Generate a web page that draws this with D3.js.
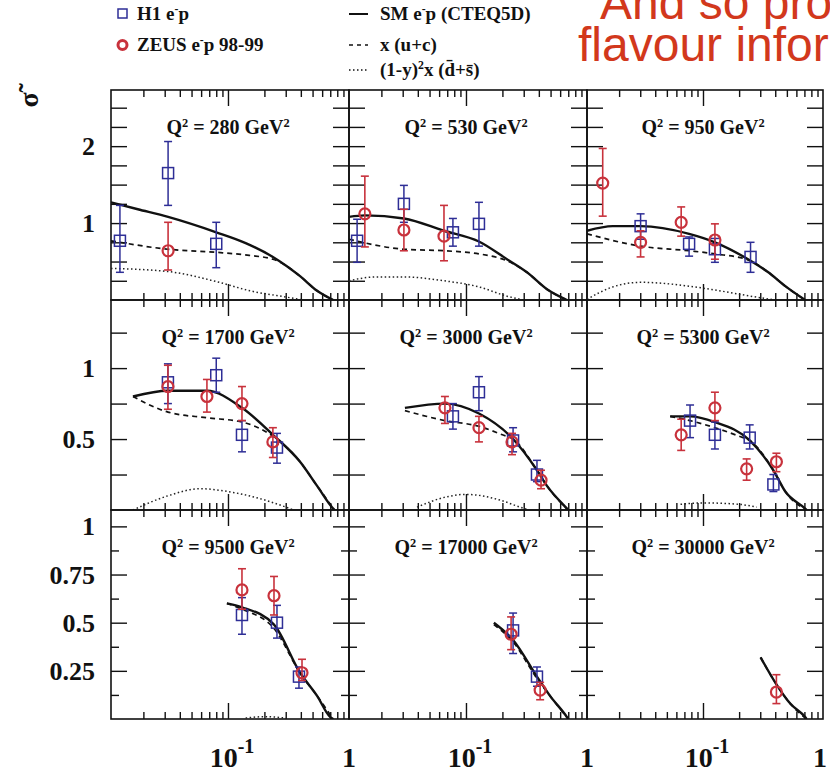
<!DOCTYPE html>
<html>
<head>
<meta charset="utf-8">
<script src="https://cdn.jsdelivr.net/npm/d3@7"></script>
<style>
  body { margin: 0; background: #fff; }
  svg { display: block; }
  text { font-family: "Liberation Serif", "Times New Roman", serif; font-weight: bold; fill: #111; }
  text.slide { font-family: "Liberation Sans", Arial, sans-serif; font-weight: normal; fill: #d2381c; font-size: 48px; }
</style>
</head>
<body>
<div id="chart"></div>
<script>
const W = 830, H = 774;

// panel layout (3 x 3)
const gridLeft = 111, gridTop = 90;
const colWidths = [238, 238, 236];
const rowHeights = [210, 210, 209];

const q2Values = ['280', '530', '950', '1700', '3000', '5300', '9500', '17000', '30000'];

// y range and ticks per row
const rowYMax = [2.73, 1.48, 1.085];
const rowYLabels = [[1, 2], [0.5, 1], [0.25, 0.5, 0.75, 1]];
const rowYMajor = [
    [0.25, 0.5, 0.75, 1, 1.25, 1.5, 1.75, 2, 2.25, 2.5],
    [0.25, 0.5, 0.75, 1, 1.25],
    [0.25, 0.5, 0.75, 1]
];
const rowYMinor = [[], [], [0.125, 0.375, 0.625, 0.875]];

const xDomain = [0.0108, 1];
const xMajor = [0.1];
const xMinor = [0.02, 0.03, 0.04, 0.05, 0.06, 0.07, 0.08, 0.09, 0.2, 0.3, 0.4, 0.5, 0.6, 0.7, 0.8, 0.9];

// measurements: [x, value, errLow, errHigh]
const h1Data = [
    [[0.0128, 0.77, 0.36, 1.23], [0.032, 1.65, 1.23, 2.06], [0.080, 0.73, 0.42, 1.01]],
    [[0.0126, 0.77, 0.49, 1.05], [0.0307, 1.25, 1.01, 1.49], [0.078, 0.88, 0.70, 1.06], [0.128, 0.99, 0.70, 1.27]],
    [[0.0302, 0.96, 0.79, 1.12], [0.0766, 0.73, 0.57, 0.82], [0.1257, 0.66, 0.49, 0.80], [0.249, 0.56, 0.36, 0.75]],
    [[0.0319, 0.90, 0.75, 1.03], [0.080, 0.95, 0.83, 1.07], [0.1305, 0.53, 0.41, 0.63], [0.254, 0.44, 0.33, 0.54]],
    [[0.078, 0.66, 0.57, 0.75], [0.128, 0.83, 0.70, 0.94], [0.245, 0.49, 0.41, 0.58], [0.386, 0.25, 0.20, 0.35]],
    [[0.078, 0.63, 0.51, 0.74], [0.1257, 0.53, 0.43, 0.62], [0.245, 0.51, 0.43, 0.60], [0.386, 0.18, 0.13, 0.25]],
    [[0.1305, 0.54, 0.44, 0.63], [0.254, 0.50, 0.42, 0.59], [0.386, 0.22, 0.16, 0.27]],
    [[0.245, 0.46, 0.34, 0.55], [0.386, 0.22, 0.17, 0.27]],
    []
];

const zeusData = [
    [[0.032, 0.64, 0.39, 1.01]],
    [[0.0146, 1.12, 0.69, 1.61], [0.0307, 0.91, 0.64, 1.18], [0.0658, 0.83, 0.51, 1.23]],
    [[0.0146, 1.52, 1.09, 1.97], [0.0302, 0.75, 0.56, 0.90], [0.0658, 1.01, 0.83, 1.21], [0.1257, 0.78, 0.53, 0.99]],
    [[0.0319, 0.87, 0.71, 1.02], [0.067, 0.80, 0.69, 0.92], [0.1305, 0.75, 0.63, 0.87], [0.235, 0.48, 0.37, 0.58]],
    [[0.067, 0.72, 0.61, 0.80], [0.128, 0.58, 0.48, 0.66], [0.24, 0.48, 0.39, 0.54], [0.417, 0.21, 0.15, 0.28]],
    [[0.0658, 0.53, 0.42, 0.64], [0.1257, 0.72, 0.63, 0.83], [0.231, 0.29, 0.21, 0.36], [0.409, 0.34, 0.27, 0.40]],
    [[0.1305, 0.67, 0.57, 0.78], [0.24, 0.64, 0.54, 0.74], [0.409, 0.24, 0.20, 0.31]],
    [[0.236, 0.44, 0.36, 0.53], [0.41, 0.15, 0.10, 0.19]],
    [[0.409, 0.14, 0.08, 0.23]]
];

// SM e-p (CTEQ5D)
const smCurve = [
    [[0.0108, 1.27], [0.018, 1.18], [0.032, 1.08], [0.08, 0.88], [0.14, 0.74], [0.235, 0.56], [0.394, 0.31], [0.545, 0.12], [0.74, 0]],
    [[0.0108, 1.08], [0.0146, 1.10], [0.0307, 1.06], [0.0658, 0.90], [0.128, 0.76], [0.218, 0.53], [0.319, 0.36], [0.467, 0.14], [0.683, 0]],
    [[0.0108, 0.90], [0.0177, 0.96], [0.0302, 0.96], [0.0766, 0.86], [0.1257, 0.75], [0.249, 0.51], [0.35, 0.36], [0.485, 0.18], [0.71, 0]],
    [[0.0164, 0.80], [0.0319, 0.84], [0.067, 0.84], [0.1305, 0.72], [0.235, 0.53], [0.394, 0.34], [0.545, 0.17], [0.74, 0.01], [0.76, 0]],
    [[0.0313, 0.72], [0.067, 0.75], [0.128, 0.68], [0.245, 0.50], [0.386, 0.28], [0.467, 0.17], [0.683, 0.01], [0.70, 0]],
    [[0.0533, 0.66], [0.078, 0.66], [0.1257, 0.62], [0.245, 0.49], [0.386, 0.28], [0.485, 0.13], [0.71, 0.01], [0.73, 0]],
    [[0.098, 0.60], [0.1305, 0.58], [0.24, 0.49], [0.394, 0.24], [0.545, 0.12], [0.70, 0.01], [0.74, 0]],
    [[0.170, 0.50], [0.245, 0.41], [0.386, 0.22], [0.495, 0.12], [0.683, 0.01], [0.70, 0]],
    [[0.302, 0.32], [0.409, 0.18], [0.533, 0.08], [0.71, 0.01], [0.73, 0]]
];

// x (u+c)
const xucCurve = [
    [[0.0108, 0.77], [0.032, 0.66], [0.08, 0.62], [0.15, 0.58], [0.235, 0.53], [0.3, 0.45], [0.394, 0.31], [0.545, 0.12], [0.74, 0]],
    [[0.0108, 0.79], [0.0307, 0.66], [0.0658, 0.64], [0.128, 0.60], [0.218, 0.51], [0.319, 0.36], [0.467, 0.14], [0.683, 0]],
    [[0.0108, 0.86], [0.0302, 0.70], [0.0766, 0.64], [0.1257, 0.60], [0.249, 0.51], [0.35, 0.36], [0.485, 0.18], [0.71, 0]],
    [[0.0164, 0.80], [0.0319, 0.69], [0.067, 0.65], [0.1305, 0.62], [0.235, 0.52], [0.394, 0.34], [0.545, 0.17], [0.76, 0]],
    [[0.0313, 0.70], [0.067, 0.63], [0.128, 0.59], [0.2, 0.53], [0.245, 0.50], [0.386, 0.28], [0.467, 0.17], [0.70, 0]],
    [[0.0533, 0.66], [0.078, 0.63], [0.1257, 0.58], [0.2, 0.52], [0.245, 0.49], [0.386, 0.28], [0.485, 0.13], [0.73, 0]],
    [[0.098, 0.60], [0.1305, 0.57], [0.24, 0.47], [0.394, 0.24], [0.545, 0.12], [0.74, 0]],
    [[0.170, 0.49], [0.245, 0.40], [0.386, 0.21], [0.495, 0.12], [0.70, 0]],
    [[0.302, 0.32], [0.409, 0.18], [0.533, 0.08], [0.73, 0]]
];

// (1-y)^2 x (dbar+sbar)
const dsCurve = [
    [[0.0108, 0.41], [0.032, 0.37], [0.08, 0.24], [0.152, 0.12], [0.325, 0.03], [0.42, 0]],
    [[0.0108, 0.25], [0.018, 0.30], [0.0307, 0.30], [0.0658, 0.25], [0.128, 0.17], [0.218, 0.05], [0.3, 0]],
    [[0.0108, 0.01], [0.0177, 0.17], [0.0302, 0.23], [0.0766, 0.18], [0.1257, 0.13], [0.249, 0.05], [0.4, 0]],
    [[0.0164, 0], [0.0319, 0.10], [0.0587, 0.15], [0.1, 0.13], [0.184, 0.08], [0.325, 0.01], [0.35, 0]],
    [[0.0394, 0.02], [0.067, 0.09], [0.1, 0.11], [0.191, 0.07], [0.28, 0.02], [0.33, 0]],
    [[0.065, 0.04], [0.1, 0.05], [0.2, 0.04], [0.28, 0.02]],
    [[0.14, 0.005], [0.2, 0.012], [0.3, 0.005]],
    [],
    []
];

const blue = '#2e2e96';
const red = '#c8323c';

const svg = d3.select('#chart')
    .append('svg')
    .attr('width', W)
    .attr('height', H);

function richText(sel, parts, size) {
    parts.forEach(p => {
        sel.append('tspan')
            .attr('font-size', p.sup ? size * 0.62 : size)
            .attr('baseline-shift', p.sup ? '55%' : null)
            .text(p.t);
    });
    return sel;
}

// red slide text (cut off by the page)
svg.append('text').attr('class', 'slide')
    .attr('x', 600).attr('y', 19)
    .text('And so provides');
svg.append('text').attr('class', 'slide')
    .attr('x', 578).attr('y', 61)
    .text('flavour information');

// legend
const legend = svg.append('g');
legend.append('rect')
    .attr('x', 118).attr('y', 9).attr('width', 9).attr('height', 9)
    .attr('fill', 'none').attr('stroke', blue).attr('stroke-width', 1.5);
richText(legend.append('text').attr('x', 137).attr('y', 20),
    [{ t: 'H1 e' }, { t: '-', sup: true }, { t: 'p' }], 19);
legend.append('circle')
    .attr('cx', 122.5).attr('cy', 45).attr('r', 4.5)
    .attr('fill', 'none').attr('stroke', red).attr('stroke-width', 3);
richText(legend.append('text').attr('x', 137).attr('y', 51),
    [{ t: 'ZEUS e' }, { t: '-', sup: true }, { t: 'p 98-99' }], 19);

legend.append('line').attr('x1', 349).attr('x2', 368).attr('y1', 14).attr('y2', 14)
    .attr('stroke', '#111').attr('stroke-width', 2);
richText(legend.append('text').attr('x', 380).attr('y', 20),
    [{ t: 'SM e' }, { t: '-', sup: true }, { t: 'p (CTEQ5D)' }], 19);
legend.append('line').attr('x1', 349).attr('x2', 368).attr('y1', 45).attr('y2', 45)
    .attr('stroke', '#111').attr('stroke-width', 1.5).attr('stroke-dasharray', '4,4');
richText(legend.append('text').attr('x', 380).attr('y', 51),
    [{ t: 'x (u+c)' }], 19);
legend.append('line').attr('x1', 349).attr('x2', 368).attr('y1', 70).attr('y2', 70)
    .attr('stroke', '#111').attr('stroke-width', 1.3).attr('stroke-dasharray', '1.5,2.5');
richText(legend.append('text').attr('x', 380).attr('y', 76),
    [{ t: '(1-y)' }, { t: '2', sup: true }, { t: 'x (d\u0304+s\u0304)' }], 19);

// y axis title
svg.append('text')
    .attr('transform', 'translate(38,100) rotate(-90)')
    .attr('text-anchor', 'middle')
    .style('font-size', '28px')
    .text('\u03c3\u0303');

const defs = svg.append('defs');

q2Values.forEach((q2, i) => {
    const row = Math.floor(i / 3), col = i % 3;
    const left = gridLeft + d3.sum(colWidths.slice(0, col));
    const top = gridTop + d3.sum(rowHeights.slice(0, row));
    const pw = colWidths[col];
    const ph = rowHeights[row];

    const x = d3.scaleLog().domain(xDomain).range([0, pw]);
    const y = d3.scaleLinear().domain([0, rowYMax[row]]).range([ph, 0]);

    const g = svg.append('g').attr('transform', `translate(${left},${top})`);

    defs.append('clipPath').attr('id', 'clip' + i)
        .append('rect').attr('width', pw).attr('height', ph);

    // ticks: bottom/top (x), left/right (y), all pointing inward
    const tickAxis = (axis, vals, size) => axis.tickValues(vals).tickSize(size).tickFormat('');
    const addAxis = (axis, tx, ty) => {
        const a = g.append('g').attr('transform', `translate(${tx},${ty})`).call(axis);
        a.select('.domain').remove();
        a.selectAll('line').attr('stroke', '#111').attr('stroke-width', 1.4);
    };
    addAxis(tickAxis(d3.axisBottom(x), xMinor, -7), 0, ph);
    addAxis(tickAxis(d3.axisBottom(x), xMajor, -16), 0, ph);
    addAxis(tickAxis(d3.axisTop(x), xMinor, -7), 0, 0);
    addAxis(tickAxis(d3.axisTop(x), xMajor, -16), 0, 0);
    addAxis(tickAxis(d3.axisLeft(y), rowYMajor[row], -16), 0, 0);
    addAxis(tickAxis(d3.axisLeft(y), rowYMinor[row], -8), 0, 0);
    addAxis(tickAxis(d3.axisRight(y), rowYMajor[row], -16), pw, 0);
    addAxis(tickAxis(d3.axisRight(y), rowYMinor[row], -8), pw, 0);

    g.append('rect')
        .attr('width', pw).attr('height', ph)
        .attr('fill', 'none').attr('stroke', '#111').attr('stroke-width', 1.6);

    // y tick labels on the first column
    if (col === 0) {
        g.selectAll('.ylab')
            .data(rowYLabels[row])
            .join('text')
            .attr('x', -16)
            .attr('y', d => y(d) + 9)
            .attr('text-anchor', 'end')
            .style('font-size', '26px')
            .text(d => d);
    }

    // x tick labels on the bottom row
    if (row === 2) {
        const t = g.append('text')
            .attr('x', x(0.1) + 4)
            .attr('y', ph + 48)
            .attr('text-anchor', 'middle')
            .style('font-size', '28px');
        t.append('tspan').text('10');
        t.append('tspan').attr('font-size', 20).attr('baseline-shift', '70%').text('-1');
        g.append('text')
            .attr('x', x(1) - (col === 2 ? 3 : 0))
            .attr('y', ph + 48)
            .attr('text-anchor', 'middle')
            .style('font-size', '28px')
            .text('1');
    }

    // Q2 label
    richText(g.append('text')
        .attr('x', pw / 2 - 2)
        .attr('y', 44)
        .attr('text-anchor', 'middle'),
        [{ t: 'Q' }, { t: '2', sup: true }, { t: ' = ' + q2 + ' GeV' }, { t: '2', sup: true }], 20);

    const plot = g.append('g').attr('clip-path', `url(#clip${i})`);
    const line = d3.line()
        .x(d => x(d[0]))
        .y(d => y(d[1]))
        .curve(d3.curveMonotoneX);

    plot.append('path').datum(dsCurve[i])
        .attr('d', line).attr('fill', 'none')
        .attr('stroke', '#222').attr('stroke-width', 1.5).attr('stroke-dasharray', '1.5,2.5');
    plot.append('path').datum(xucCurve[i])
        .attr('d', line).attr('fill', 'none')
        .attr('stroke', '#111').attr('stroke-width', 1.7).attr('stroke-dasharray', '5,4');
    plot.append('path').datum(smCurve[i])
        .attr('d', line).attr('fill', 'none')
        .attr('stroke', '#111').attr('stroke-width', 2.4);

    // H1 points
    const h1 = plot.selectAll('.h1')
        .data(h1Data[i])
        .join('g')
        .attr('stroke', blue).attr('stroke-width', 1.5).attr('fill', 'none');
    h1.append('line')
        .attr('x1', d => x(d[0])).attr('x2', d => x(d[0]))
        .attr('y1', d => y(d[2])).attr('y2', d => y(d[3]));
    h1.append('line')
        .attr('x1', d => x(d[0]) - 4).attr('x2', d => x(d[0]) + 4)
        .attr('y1', d => y(d[2])).attr('y2', d => y(d[2]));
    h1.append('line')
        .attr('x1', d => x(d[0]) - 4).attr('x2', d => x(d[0]) + 4)
        .attr('y1', d => y(d[3])).attr('y2', d => y(d[3]));
    h1.append('rect')
        .attr('x', d => x(d[0]) - 5.5).attr('y', d => y(d[1]) - 5.5)
        .attr('width', 11).attr('height', 11)
        .attr('fill', '#fff').attr('fill-opacity', 0.01);

    // ZEUS points
    const zeus = plot.selectAll('.zeus')
        .data(zeusData[i])
        .join('g')
        .attr('stroke', red).attr('stroke-width', 1.6).attr('fill', 'none');
    zeus.append('line')
        .attr('x1', d => x(d[0])).attr('x2', d => x(d[0]))
        .attr('y1', d => y(d[2])).attr('y2', d => y(d[3]));
    zeus.append('line')
        .attr('x1', d => x(d[0]) - 4).attr('x2', d => x(d[0]) + 4)
        .attr('y1', d => y(d[2])).attr('y2', d => y(d[2]));
    zeus.append('line')
        .attr('x1', d => x(d[0]) - 4).attr('x2', d => x(d[0]) + 4)
        .attr('y1', d => y(d[3])).attr('y2', d => y(d[3]));
    zeus.append('circle')
        .attr('cx', d => x(d[0])).attr('cy', d => y(d[1]))
        .attr('r', 5.5).attr('stroke-width', 2.2);
});
</script>
</body>
</html>
